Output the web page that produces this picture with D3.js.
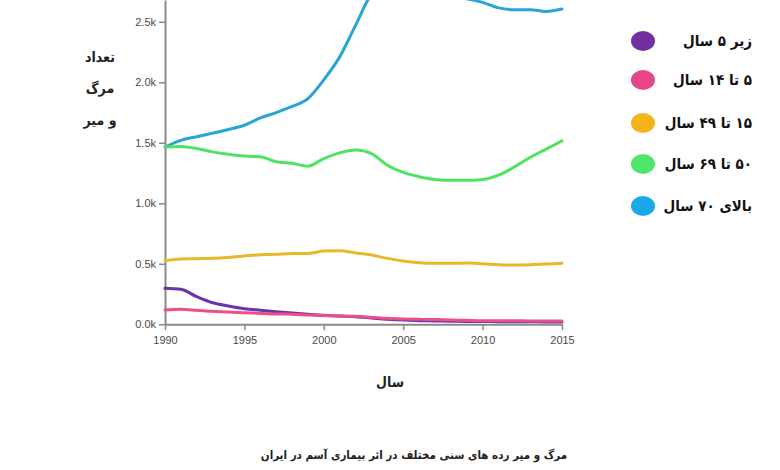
<!DOCTYPE html>
<html>
<head>
<meta charset="utf-8">
<script src="https://cdn.jsdelivr.net/npm/d3@7"></script>
<style>
  html, body { margin: 0; padding: 0; background: #fff; overflow: hidden; }
  svg { display: block; }
</style>
</head>
<body>
<svg id="chart" width="780" height="470"></svg>
<script>
// --------------------------------
// data: asthma deaths in Iran by age group
// --------------------------------

var years = d3.range(1990, 2016);

var under5 = [297, 289, 228, 178, 151, 129, 116, 104, 93, 83, 74, 68, 63, 52, 41, 36, 30, 28, 25, 24, 23, 22, 21, 21, 20, 20];
var age5to14 = [118, 124, 116, 107, 101, 96, 90, 85, 83, 77, 72, 68, 66, 58, 49, 44, 41, 39, 36, 33, 30, 30, 29, 28, 28, 28];
var age15to49 = [525, 539, 542, 545, 553, 564, 575, 578, 586, 586, 605, 608, 590, 572, 545, 523, 509, 504, 504, 506, 500, 492, 490, 492, 498, 504];
var age50to69 = [1465, 1470, 1453, 1425, 1405, 1390, 1385, 1343, 1330, 1307, 1370, 1417, 1440, 1410, 1315, 1255, 1220, 1197, 1190, 1190, 1197, 1233, 1300, 1380, 1448, 1516];
var over70 = [1465, 1520, 1550, 1580, 1610, 1645, 1705, 1750, 1800, 1865, 2020, 2210, 2470, 2720, 2780, 2800, 2790, 2750, 2710, 2690, 2660, 2615, 2600, 2600, 2585, 2605];

var seriesNames = ["زیر ۵ سال", "۵ تا ۱۴ سال", "۱۵ تا ۴۹ سال", "۵۰ تا ۶۹ سال", "بالای ۷۰ سال"];
var seriesColors = ["#7030a0", "#e8468a", "#f5b31a", "#4ee66a", "#1aa8e6"];
var lineColors = ["#6a35ac", "#ea4f8c", "#e8b82c", "#4fe362", "#2aa4d6"];

var yTicks = [0, 500, 1000, 1500, 2000, 2500];
var xTicks = [1990, 1995, 2000, 2005, 2010, 2015];

var yLabelLines = ["تعداد", "مرگ", "و میر"];
var xTitle = "سال";
var chartTitle = "مرگ و میر رده های سنی مختلف در اثر بیماری آسم در ایران";

var faFont = "'DejaVu Sans Condensed', 'DejaVu Sans', sans-serif";

// --------------------------------
// layout
// --------------------------------

var svg = d3.select("#chart");

var x = d3.scaleLinear().domain([1990, 2015]).range([165, 562]);
var y = d3.scaleLinear().domain([0, 2680]).range([324.3, 0]);

var allSeries = [under5, age5to14, age15to49, age50to69, over70];

// axes
var gx = svg.append("g")
	.attr("transform", "translate(0," + y(0) + ")")
	.call(d3.axisBottom(x).tickValues(xTicks).tickFormat(d3.format("d")).tickSize(6).tickSizeOuter(0));

var gy = svg.append("g")
	.attr("transform", "translate(" + x(1990) + ",0)")
	.call(d3.axisLeft(y).tickValues(yTicks).tickFormat(function(d){ return (d/1000).toFixed(1) + "k"; }).tickSize(6).tickSizeOuter(0));

[gx, gy].forEach(function(g){
	g.select(".domain").attr("stroke", "#8a8a8a").attr("stroke-width", 2);
	g.selectAll(".tick line").attr("stroke", "#8a8a8a").attr("stroke-width", 1.5);
	g.selectAll(".tick text")
		.attr("fill", "#4a4a4a")
		.style("font-family", "'Liberation Sans', Arial, sans-serif")
		.style("font-size", "11px");
});
gx.selectAll(".tick text").attr("dy", "1em");

// lines: draw big ones first, pink on top of purple
var line = d3.line()
	.x(function(d, i){ return x(years[i]); })
	.y(function(d){ return y(d); })
	.curve(d3.curveMonotoneX);

[4, 3, 2, 0, 1].forEach(function(k){
	svg.append("path")
		.datum(allSeries[k])
		.attr("d", line)
		.attr("fill", "none")
		.attr("stroke", lineColors[k])
		.attr("stroke-width", 3)
		.attr("stroke-linejoin", "round")
		.attr("stroke-linecap", "round");
});

// y axis label (three lines)
var yLabelY = [57, 88, 120];
yLabelLines.forEach(function(t, i){
	svg.append("text")
		.attr("x", 100)
		.attr("y", yLabelY[i])
		.attr("dy", "0.35em")
		.attr("text-anchor", "middle")
		.attr("direction", "rtl")
		.style("font-family", faFont)
		.style("font-weight", "bold")
		.style("font-size", "14px")
		.attr("fill", "#222")
		.text(t);
});

// x axis title
svg.append("text")
	.attr("x", 390)
	.attr("y", 382)
	.attr("dy", "0.35em")
	.attr("text-anchor", "middle")
	.style("font-family", faFont)
	.style("font-weight", "bold")
	.style("font-size", "14px")
	.attr("fill", "#222")
	.text(xTitle);

// chart title
svg.append("text")
	.attr("x", 414)
	.attr("y", 455)
	.attr("dy", "0.35em")
	.attr("text-anchor", "middle")
	.attr("direction", "rtl")
	.style("font-family", faFont)
	.style("font-weight", "bold")
	.style("font-size", "11.5px")
	.attr("fill", "#222")
	.text(chartTitle);

// legend
var legendY = [41, 80, 123, 164, 206];
var legend = svg.append("g");
seriesNames.forEach(function(name, i){
	legend.append("ellipse")
		.attr("cx", 643)
		.attr("cy", legendY[i])
		.attr("rx", 12)
		.attr("ry", 10)
		.attr("fill", seriesColors[i]);
	legend.append("text")
		.attr("x", 752)
		.attr("y", legendY[i])
		.attr("dy", "0.35em")
		.attr("text-anchor", "start")
		.attr("direction", "rtl")
		.style("font-family", faFont)
		.style("font-weight", "bold")
		.style("font-size", "15px")
		.attr("fill", "#111")
		.text(name);
});
</script>
</body>
</html>
